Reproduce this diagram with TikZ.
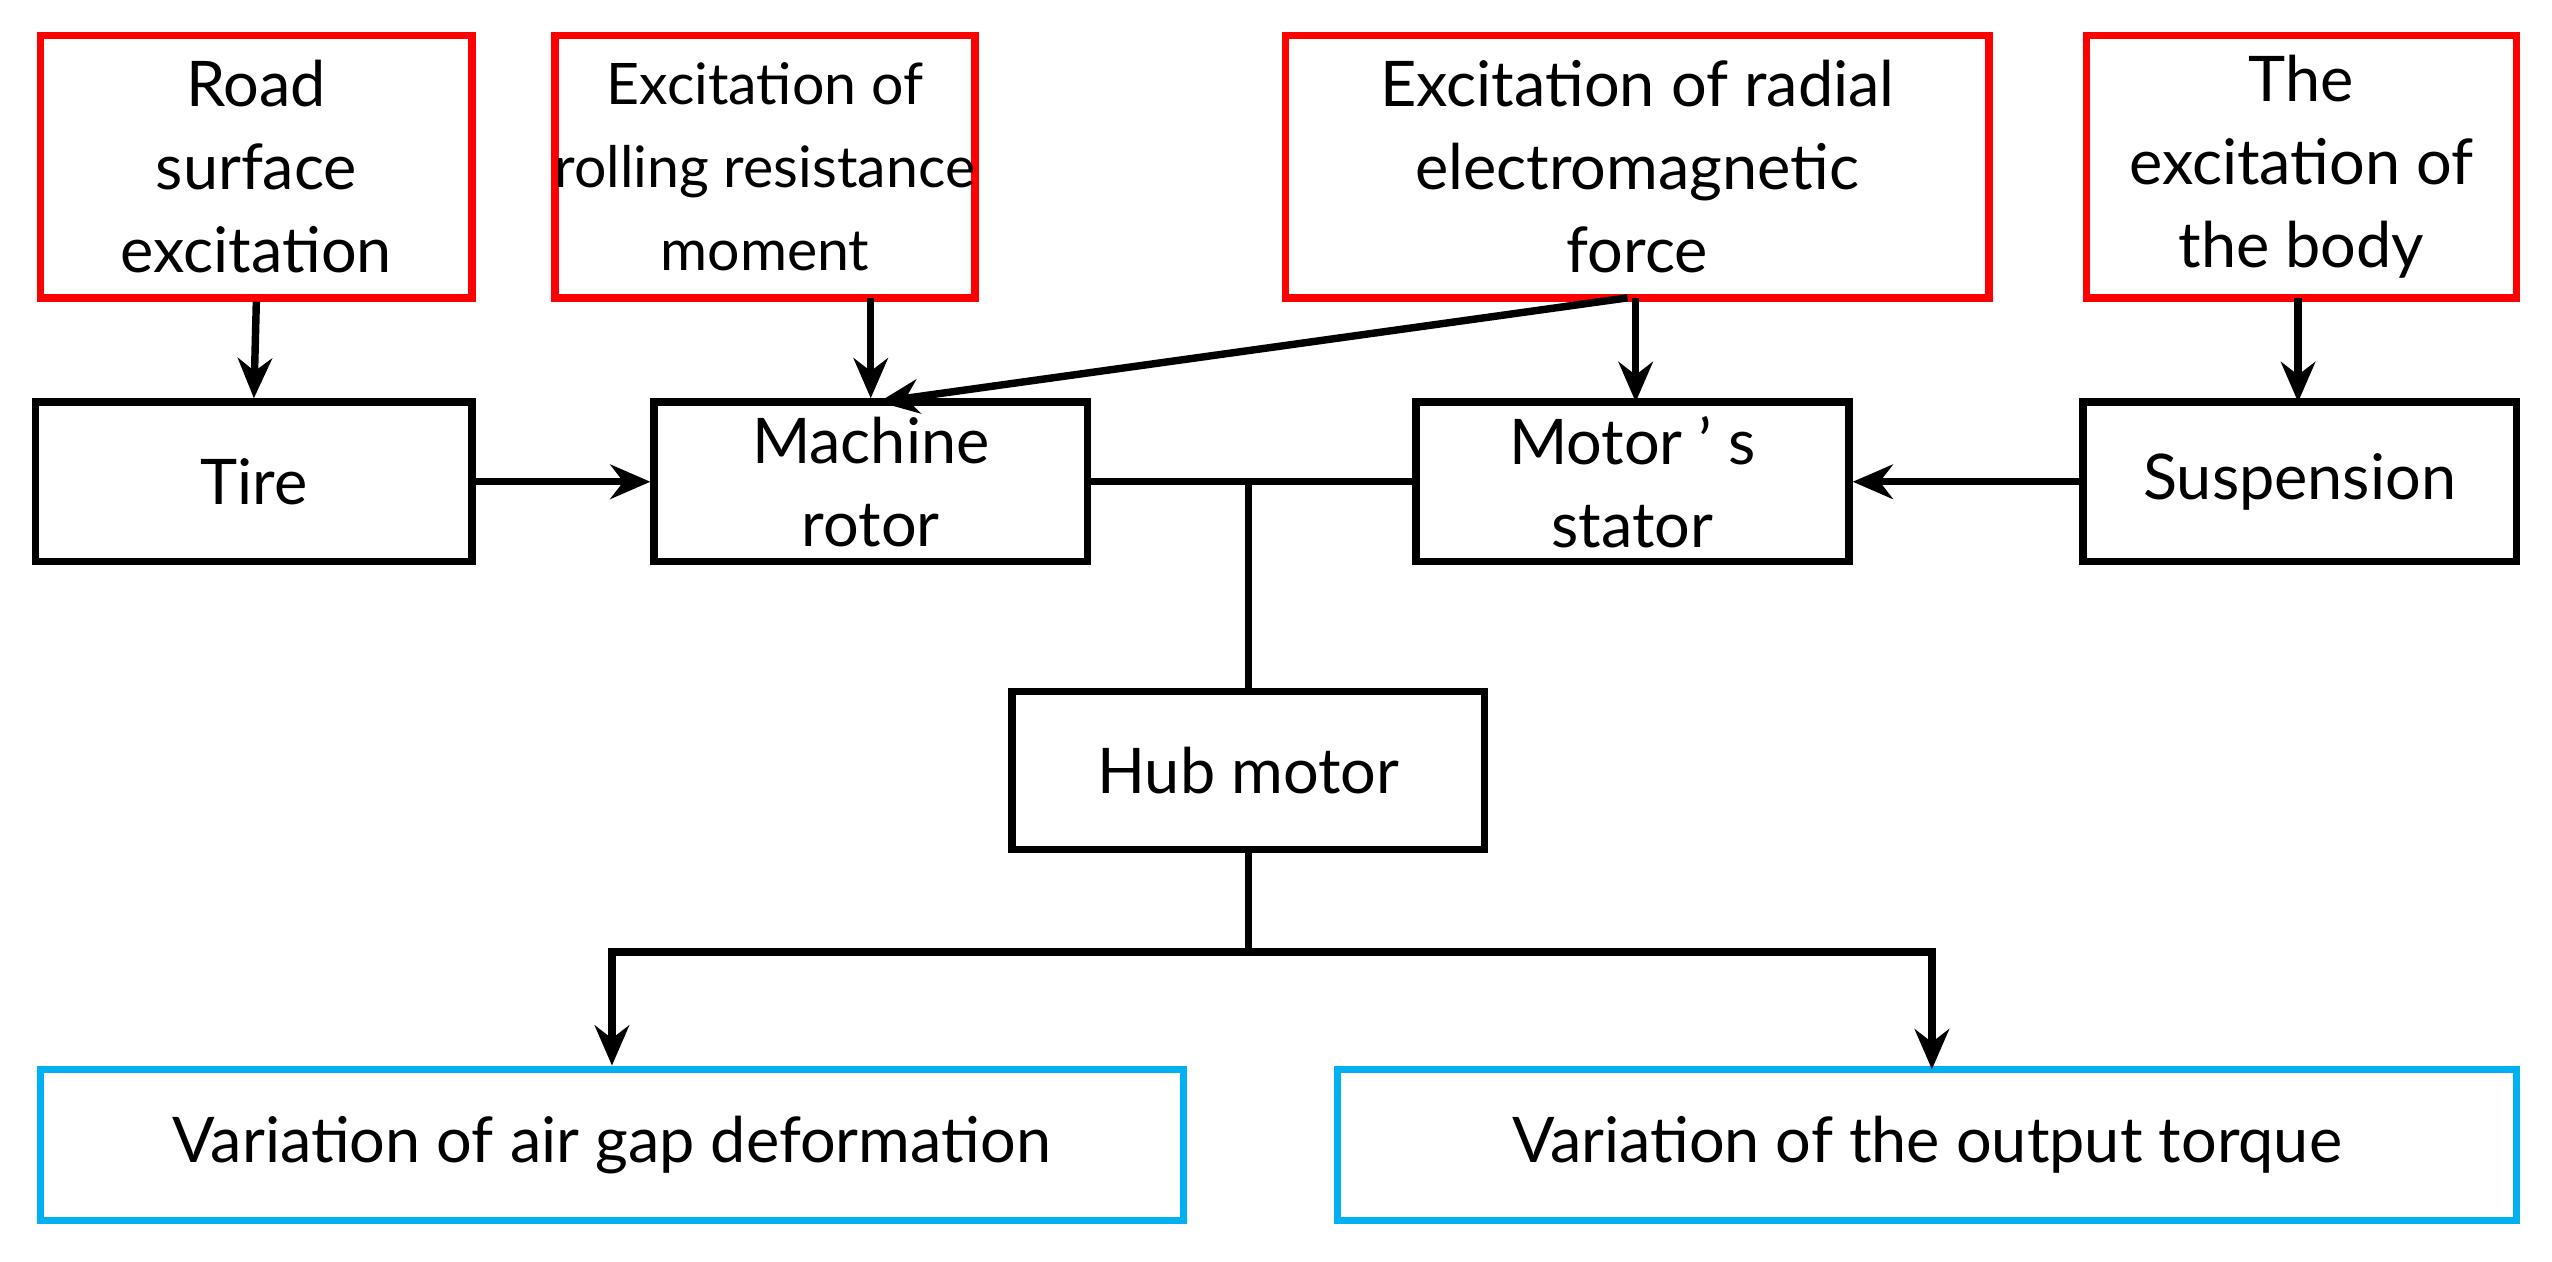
\documentclass[tikz,border=0pt]{standalone}
\usepackage{fontspec}
\setmainfont{Lato}
\usetikzlibrary{arrows.meta}
\begin{document}
\begin{tikzpicture}[x=0.01cm,y=-0.01cm,
 box/.style={draw, line width=1.3pt, inner sep=0pt, align=center, font=\fontsize{11}{14.5}\selectfont},
 red/.style={box, draw={rgb,255:red,255;green,0;blue,0}},
 blue/.style={box, draw={rgb,255:red,0;green,176;blue,240}},
 arr/.style={line width=1.3pt, -{Stealth[length=7pt,width=6pt]}},
 ln/.style={line width=1.3pt}]
\useasboundingbox (0,0) rectangle (1568,775);
\node[red,minimum width=2.65cm,minimum height=1.61cm] (road) at (157.5,102.5) {Road\\surface\\excitation};
\node[red,minimum width=2.5cm,minimum height=1.61cm,font=\fontsize{10}{14.5}\selectfont] (roll) at (470,102.5) {Excitation of\\rolling resistance\\moment};
\node[red,minimum width=4.32cm,minimum height=1.61cm] (rad) at (1006,102.5) {Excitation of radial\\electromagnetic\\force};
\node[red,minimum width=2.64cm,minimum height=1.61cm] (body) at (1414,102.5) {The\\excitation of\\the body};
\node[box,minimum width=2.68cm,minimum height=0.98cm] (tire) at (156,296) {Tire};
\node[box,minimum width=2.66cm,minimum height=0.98cm] (rotor) at (535,296) {Machine\\rotor};
\node[box,minimum width=2.66cm,minimum height=0.98cm] (stator) at (1003,296) {Motor ' s\\stator};
\node[box,minimum width=2.66cm,minimum height=0.98cm] (susp) at (1413,296) {Suspension};
\node[box,minimum width=2.9cm,minimum height=0.97cm] (hub) at (767,473.5) {Hub motor};
\node[blue,minimum width=7.02cm,minimum height=0.93cm] (gap) at (376,703.5) {Variation of air gap deformation};
\node[blue,minimum width=7.24cm,minimum height=0.93cm] (tq) at (1184,703.5) {Variation of the output torque};
\draw[arr] (road.south) -- (tire.north);
\draw[arr] (535,183) -- (rotor.north);
\draw[arr] (1005,183) -- (1005,247);
\draw[arr] (1000,183) -- (540,247);
\draw[arr] (1412,183) -- (1412,247);
\draw[arr] (tire.east) -- (rotor.west);
\draw[arr] (susp.west) -- (stator.east);
\coordinate (j) at (767,296);
\coordinate (k) at (767,585);
\draw[ln] (rotor.east) -- (stator.west);
\draw[ln] (j) -- (hub.north);
\draw[ln] (hub.south) -- (k);
\draw[arr] (k) -| (gap.north);
\draw[arr] (k) -| (1187,657);
\end{tikzpicture}
\end{document}
